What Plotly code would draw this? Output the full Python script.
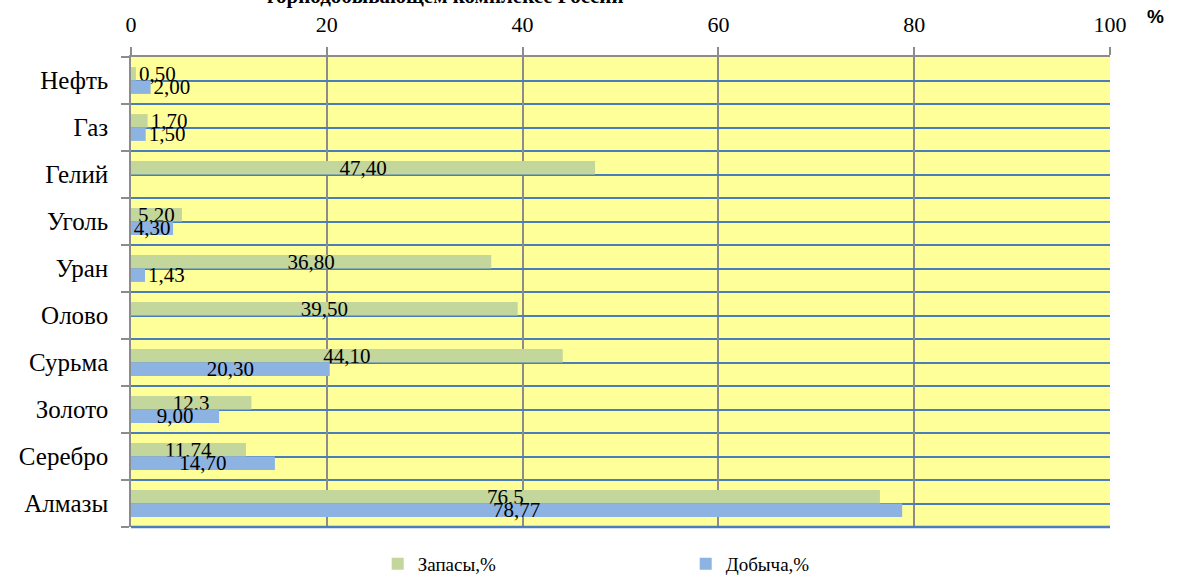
import plotly.graph_objects as go

# Полезные ископаемые (сверху вниз)
categories = ["Нефть", "Газ", "Гелий", "Уголь", "Уран", "Олово",
              "Сурьма", "Золото", "Серебро", "Алмазы"]

# Доля России в мировых запасах и добыче, % (подписи в исходном формате)
reserves_labels = ["0,50", "1,70", "47,40", "5,20", "36,80", "39,50",
                   "44,10", "12,3", "11,74", "76,5"]
production_labels = ["2,00", "1,50", None, "4,30", "1,43", None,
                     "20,30", "9,00", "14,70", "78,77"]

x_ticks = [0, 20, 40, 60, 80, 100]


def to_number(s):
    return None if s is None else float(s.replace(",", "."))


reserves = [to_number(s) for s in reserves_labels]
production = [to_number(s) for s in production_labels]
ypos = list(range(len(categories)))

SERIF = "Liberation Serif, serif"
GREEN = "#C3D69B"
BLUE = "#8DB3E2"
GRID_BLUE = "#4A7EBB"
GRAY = "#8C8C8C"


def text_positions(values):
    return ["outside" if (v is not None and v < 3) else "inside" for v in values]


def make_trace(name, values, labels, color):
    return go.Bar(
        name=name,
        y=ypos,
        x=values,
        orientation="h",
        marker=dict(color=color, line=dict(width=0)),
        text=[l if l is not None else "" for l in labels],
        textposition=text_positions(values),
        insidetextanchor="middle",
        constraintext="none",
        textangle=0,
        textfont=dict(family=SERIF, size=21, color="black"),
        insidetextfont=dict(family=SERIF, size=21, color="black"),
        outsidetextfont=dict(family=SERIF, size=21, color="black"),
        cliponaxis=False,
        hoverinfo="x+name",
    )


fig = go.Figure()
fig.add_trace(make_trace("Запасы,%", reserves, reserves_labels, GREEN))
fig.add_trace(make_trace("Добыча,%", production, production_labels, BLUE))

fig.update_layout(
    width=1198,
    height=575,
    barmode="group",
    bargap=0.43,
    bargroupgap=0,
    plot_bgcolor="#FFFF99",
    paper_bgcolor="white",
    margin=dict(l=131, r=88, t=57, b=48, autoexpand=False),
    font=dict(family=SERIF, color="black"),
    showlegend=True,
    legend=dict(
        orientation="h",
        x=0.252,
        xanchor="left",
        yref="container",
        y=(575 - 564) / 575,
        yanchor="middle",
        entrywidth=263,
        entrywidthmode="pixels",
        font=dict(family=SERIF, size=19, color="black"),
        itemwidth=30,
        traceorder="normal",
    ),
    xaxis=dict(
        side="top",
        range=[0, 100],
        tickmode="array",
        tickvals=x_ticks,
        ticktext=[str(v) for v in x_ticks],
        tickfont=dict(family=SERIF, size=22, color="black"),
        showgrid=True,
        gridcolor=GRAY,
        gridwidth=1.5,
        zeroline=False,
        showline=True,
        linecolor=GRAY,
        linewidth=1.5,
        ticks="outside",
        ticklen=8,
        tickcolor=GRAY,
        tickwidth=1.5,
        ticklabelstandoff=6,
        fixedrange=True,
    ),
    yaxis=dict(
        range=[len(categories) - 0.5, -0.5],
        tickmode="array",
        tickvals=ypos,
        ticktext=categories,
        tickfont=dict(family=SERIF, size=25, color="black"),
        ticks="",
        showgrid=True,
        gridcolor=GRID_BLUE,
        gridwidth=1.5,
        zeroline=False,
        showline=True,
        linecolor=GRAY,
        linewidth=1.5,
        ticklabelstandoff=16,
        minor=dict(
            tickmode="linear",
            tick0=-0.5,
            dtick=1,
            showgrid=True,
            gridcolor=GRID_BLUE,
            gridwidth=2,
            ticks="outside",
            ticklen=8,
            tickcolor=GRAY,
            tickwidth=1.5,
        ),
        fixedrange=True,
    ),
)

# Нижняя граница области построения
fig.add_shape(type="line", xref="paper", yref="paper", x0=0, x1=1, y0=0, y1=0,
              line=dict(color=GRID_BLUE, width=2.5), layer="above")

# Заголовок (вторая строка) и единица измерения
fig.add_annotation(
    text="<b>горнодобывающем комплексе России</b>",
    xref="paper", yref="paper", x=(445 - 131) / 979, y=1 + (57 - 10) / 470,
    xanchor="center", yanchor="bottom", showarrow=False,
    font=dict(family=SERIF, size=21, color="black"),
)
fig.add_annotation(
    text="<b>%</b>",
    xref="paper", yref="paper", x=(1145 - 131) / 979, y=1 + (57 - 16) / 470,
    xanchor="left", yanchor="middle", showarrow=False,
    font=dict(family="Liberation Sans, sans-serif", size=19, color="black"),
)

fig.write_html("out.html")
